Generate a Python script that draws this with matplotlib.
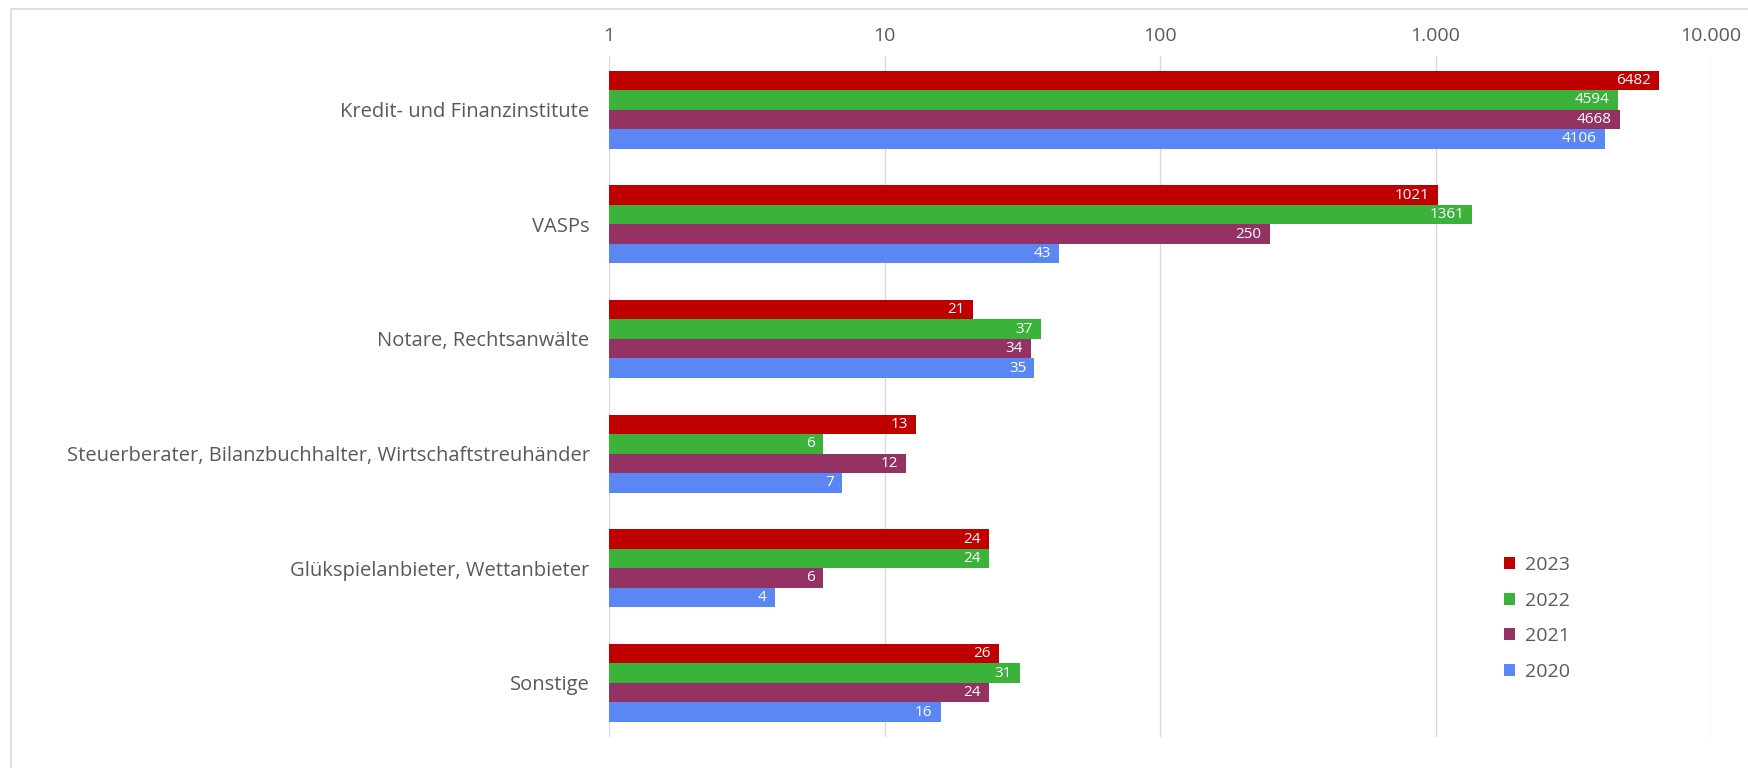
import matplotlib
matplotlib.use("Agg")
import matplotlib.pyplot as plt
import matplotlib.patches as mpatches
from matplotlib.ticker import FixedLocator, FixedFormatter
import numpy as np

plt.rcParams['font.family'] = ['Open Sans', 'DejaVu Sans']

# Daten
kategorien = ["Kredit- und Finanzinstitute", "VASPs", "Notare, Rechtsanwälte",
              "Steuerberater, Bilanzbuchhalter, Wirtschaftstreuhänder",
              "Glükspielanbieter, Wettanbieter", "Sonstige"]
jahre = ["2023", "2022", "2021", "2020"]
werte_2023 = [6482, 1021, 21, 13, 24, 26]
werte_2022 = [4594, 1361, 37, 6, 24, 31]
werte_2021 = [4668, 250, 34, 12, 6, 24]
werte_2020 = [4106, 43, 35, 7, 4, 16]
tick_werte = [1, 10, 100, 1000, 10000]
tick_labels = ["1", "10", "100", "1.000", "10.000"]

serien = [werte_2023, werte_2022, werte_2021, werte_2020]
farben = ["#C00000", "#3BB33B", "#953264", "#5B87F5"]

fig = plt.figure(figsize=(17.49, 7.68), dpi=100)
# Achsenposition (Bruchteile der Abbildung)
ax = fig.add_axes([0.3482, 0.0407, 0.6301, 0.8866])

# Rahmen um die Grafik
fig.patches.append(mpatches.Rectangle((0.0065, -0.01), 1.0, 0.998,
                                      transform=fig.transFigure, fill=False,
                                      edgecolor="#D9D9D9", linewidth=1.2))

y = np.arange(len(kategorien))
h = 0.17
for i, (werte, farbe, jahr) in enumerate(zip(serien, farben, jahre)):
    pos = y + (i - 1.5) * h
    # Balken beginnen bei 1 (log-Achse)
    bars = ax.barh(pos, np.array(werte) - 1, height=h, color=farbe, label=jahr,
                   left=1, zorder=3)
    for b, v in zip(bars, werte):
        ax.text(v / 1.07, b.get_y() + h/2, str(v), ha="right", va="center",
                color="white", fontsize=11, zorder=4)

ax.set_xscale("log")
ax.set_xlim(1, 10000)
ax.set_ylim(len(kategorien) - 1 + 0.47, -0.47)
ax.xaxis.set_major_locator(FixedLocator(tick_werte))
ax.xaxis.set_major_formatter(FixedFormatter(tick_labels))
ax.xaxis.set_minor_locator(FixedLocator([]))
ax.xaxis.tick_top()
ax.tick_params(axis="x", length=0, pad=8, labelsize=14, labelcolor="#595959")
ax.set_yticks(y)
ax.set_yticklabels(kategorien)
ax.tick_params(axis="y", length=0, pad=14, labelsize=14.5, labelcolor="#595959")
ax.grid(axis="x", color="#D9D9D9", linewidth=1, zorder=0)
for s in ax.spines.values():
    s.set_visible(False)

leg = ax.legend(loc="upper left", bbox_to_anchor=(0.796, 0.291),
                frameon=False, fontsize=14, handlelength=0.6, handleheight=0.6,
                labelspacing=0.9, handletextpad=0.5)
for t in leg.get_texts():
    t.set_color("#595959")

plt.savefig("out.png", dpi=100)
